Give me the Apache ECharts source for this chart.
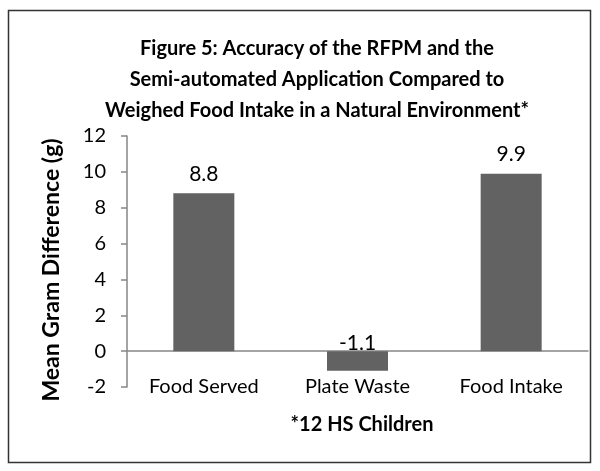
<!DOCTYPE html>
<html>
<head>
<meta charset="utf-8">
<script src="https://cdn.jsdelivr.net/npm/echarts@6/dist/echarts.min.js"></script>
<style>html,body{margin:0;padding:0;background:#fff}#c{width:600px;height:471px}</style>
</head>
<body>
<div id="c"></div>
<script>
const categories = ['Food Served', 'Plate Waste', 'Food Intake'];
const values = [8.8, -1.1, 9.9];
const titleLines = ['Figure 5: Accuracy of the RFPM and the', 'Semi-automated Application Compared to', 'Weighed Food Intake in a Natural Environment*'];
const yAxisTitle = 'Mean Gram Difference (g)';
const footNote = '*12 HS Children';

const FONT = 'Lato';
const chart = echarts.init(document.getElementById('c'), null, {renderer: 'canvas'});
chart.setOption({
  animation: false,
  backgroundColor: '#fff',
  title: [
    {text: titleLines.join('\n'), left: 312, top: 28, textAlign: 'center',
     textStyle: {fontFamily: FONT, fontWeight: 'bold', fontSize: 20, lineHeight: 31, color: '#000'}},
    {text: footNote, left: 357, top: 410, textAlign: 'center',
     textStyle: {fontFamily: FONT, fontWeight: 'bold', fontSize: 20, color: '#000'}}
  ],
  graphic: [
    {type: 'rect', shape: {x: 8.5, y: 10.5, width: 582, height: 452},
     style: {fill: 'none', stroke: '#333', lineWidth: 1.5}, silent: true},
    {type: 'text', x: 52, y: 270, rotation: Math.PI / 2,
     style: {text: yAxisTitle, fontFamily: FONT, fontWeight: 'bold', fontSize: 23, fill: '#000',
             align: 'center', verticalAlign: 'middle'}, silent: true}
  ],
  grid: {left: 127, right: 12, top: 136, bottom: 84, containLabel: false},
  xAxis: {
    type: 'category', data: categories,
    axisLine: {onZero: true, lineStyle: {color: '#868686', width: 1.5}},
    axisTick: {show: false},
    axisLabel: {fontFamily: FONT, fontSize: 20, color: '#000', margin: -10}
  },
  yAxis: {
    type: 'value', min: -2, max: 12, interval: 2,
    axisLine: {show: true, lineStyle: {color: '#868686', width: 1.5}},
    axisTick: {show: true, inside: false, length: 6, lineStyle: {color: '#868686', width: 1.5}},
    splitLine: {show: false},
    axisLabel: {fontFamily: FONT, fontSize: 20, color: '#000', margin: 21}
  },
  series: [{
    type: 'bar', barWidth: 61,
    data: values.map(v => v < 0 ? {value: v, label: {position: 'top', distance: -3}} : v),
    itemStyle: {color: '#626262'},
    label: {show: true, position: 'top', distance: 9, fontFamily: FONT, fontSize: 21, color: '#000'}
  }]
});
</script>
</body>
</html>
